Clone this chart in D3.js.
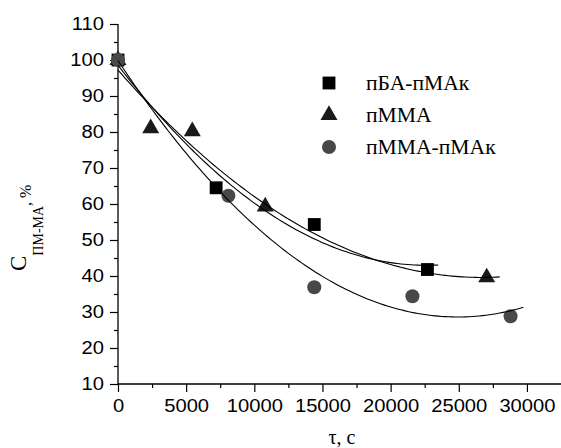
<!DOCTYPE html>
<html>
<head>
<meta charset="utf-8">
<script src="https://cdn.jsdelivr.net/npm/d3@7"></script>
<style>
body { margin: 0; background: #fff; overflow: hidden; }
svg { display: block; }
.tick text { font-family: "Liberation Sans", Arial, sans-serif; font-size: 18px; fill: #000; }
.serif { font-family: "Liberation Serif", "Times New Roman", serif; fill: #000; }
</style>
</head>
<body>
<div id="chart"></div>
<script>
// data
var seriesNames = ['пБА-пМАк', 'пММА', 'пММА-пМАк']
var pbaTime = [0, 7200, 14400, 22700]
var pbaConc = [100, 64.5, 54.3, 41.8]
var pmmaTime = [0, 2400, 5450, 10800, 27050]
var pmmaConc = [100, 81, 80.2, 59.3, 39.6]
var copTime = [0, 8100, 14400, 21600, 28800]
var copConc = [100, 62.3, 36.9, 34.4, 28.8]
var fitEnd = [23500, 28000, 29900]
var xTicks = [0, 5000, 10000, 15000, 20000, 25000, 30000]
var yTicks = [10, 20, 30, 40, 50, 60, 70, 80, 90, 100, 110]

var width = 561, height = 448
var margin = {top: 24, left: 118, bottom: 64, right: 0}

var svg = d3.select('#chart').append('svg')
	.attr('width', width).attr('height', height)

var x = d3.scaleLinear().domain([0, 32500]).range([margin.left, width - margin.right])
var y = d3.scaleLinear().domain([10, 110]).range([height - margin.bottom, margin.top])

// quadratic least squares, same kind of fit as the original plot
function quadFit(xs, ys) {
	var s = [0, 0, 0, 0, 0], t = [0, 0, 0]
	xs.forEach(function(xv, i) {
		var u = xv / 10000
		for (var k = 0; k < 5; k++) s[k] += Math.pow(u, k)
		for (var k = 0; k < 3; k++) t[k] += ys[i] * Math.pow(u, k)
	})
	var m = [[s[0], s[1], s[2], t[0]], [s[1], s[2], s[3], t[1]], [s[2], s[3], s[4], t[2]]]
	for (var i = 0; i < 3; i++) {
		for (var j = i + 1; j < 3; j++) {
			var f = m[j][i] / m[i][i]
			for (var k = i; k < 4; k++) m[j][k] -= f * m[i][k]
		}
	}
	var c = [0, 0, 0]
	for (var i = 2; i >= 0; i--) {
		var v = m[i][3]
		for (var k = i + 1; k < 3; k++) v -= m[i][k] * c[k]
		c[i] = v / m[i][i]
	}
	return function(xv) { var u = xv / 10000; return c[0] + c[1] * u + c[2] * u * u }
}

var series = [
	{name: seriesNames[0], xs: pbaTime, ys: pbaConc, shape: d3.symbolSquare, size: 165, color: '#000'},
	{name: seriesNames[1], xs: pmmaTime, ys: pmmaConc, shape: d3.symbolTriangle, size: 125, color: '#1a1a1a'},
	{name: seriesNames[2], xs: copTime, ys: copConc, shape: d3.symbolCircle, size: 155, color: '#484848'}
]

// axes: major ticks with labels, minor ticks without
var xAxis = svg.append('g').attr('transform', 'translate(0,' + y(10) + ')')
	.call(d3.axisBottom(x).tickValues(xTicks).tickSize(8).tickPadding(7).tickFormat(d3.format('d')))
var xMinor = svg.append('g').attr('transform', 'translate(0,' + y(10) + ')')
	.call(d3.axisBottom(x).tickValues(d3.range(2500, 32500, 5000)).tickSize(4).tickFormat(''))
var yAxis = svg.append('g').attr('transform', 'translate(' + x(0) + ',0)')
	.call(d3.axisLeft(y).tickValues(yTicks).tickSize(8).tickPadding(6))
var yMinor = svg.append('g').attr('transform', 'translate(' + x(0) + ',0)')
	.call(d3.axisLeft(y).tickValues(d3.range(15, 110, 10)).tickSize(4).tickFormat(''))

xMinor.select('.domain').remove()
yMinor.select('.domain').remove()
xAxis.select('.domain').attr('d', 'M' + x(0) + ',0H' + width)
yAxis.select('.domain').attr('d', 'M0,' + y(10) + 'V' + y(110))
svg.selectAll('.domain').attr('stroke', '#000').attr('stroke-width', 1.3)
svg.selectAll('.tick line').attr('stroke', '#000').attr('stroke-width', 1.2)

// the original glyphs are a bit wider than the fonts here
function widen(sel, k) {
	sel.each(function() {
		var w = this.getComputedTextLength()
		d3.select(this).attr('textLength', w * k).attr('lengthAdjust', 'spacingAndGlyphs')
	})
}
widen(svg.selectAll('.tick text'), 1.12)

// markers
series.forEach(function(s) {
	svg.append('g').selectAll('path').data(s.xs).enter().append('path')
		.attr('d', d3.symbol().type(s.shape).size(s.size))
		.attr('transform', function(d, i) { return 'translate(' + x(d) + ',' + y(s.ys[i]) + ')' })
		.attr('fill', s.color)
})

// fit curves
var line = d3.line().x(function(d) { return x(d[0]) }).y(function(d) { return y(d[1]) })
series.forEach(function(s, i) {
	var f = quadFit(s.xs, s.ys)
	var pts = d3.range(0, fitEnd[i] + 1, 250).map(function(t) { return [t, f(t)] })
	svg.append('path').datum(pts).attr('d', line)
		.attr('fill', 'none').attr('stroke', '#000').attr('stroke-width', 1.1)
})

// legend
var legend = svg.append('g')
series.forEach(function(s, i) {
	var cy = 83 + i * 32
	legend.append('path').attr('d', d3.symbol().type(s.shape).size(s.size))
		.attr('transform', 'translate(329,' + cy + ')').attr('fill', s.color)
	legend.append('text').attr('class', 'serif').attr('x', 366).attr('y', cy + 6.5)
		.style('font-size', '20px').text(s.name)
})
widen(legend.selectAll('text'), 1.08)

// axis titles
svg.append('text').attr('class', 'serif').attr('x', 342).attr('y', 444)
	.attr('text-anchor', 'middle').style('font-size', '20px').text('τ, с')

var yt = svg.append('text').attr('class', 'serif')
	.attr('transform', 'translate(26,271) rotate(-90)')
yt.append('tspan').style('font-size', '23px').text('C')
yt.append('tspan').style('font-size', '14px').attr('dy', 17).text('ПМ-МА')
yt.append('tspan').style('font-size', '16px').attr('dy', -12).text(', %')
</script>
</body>
</html>
